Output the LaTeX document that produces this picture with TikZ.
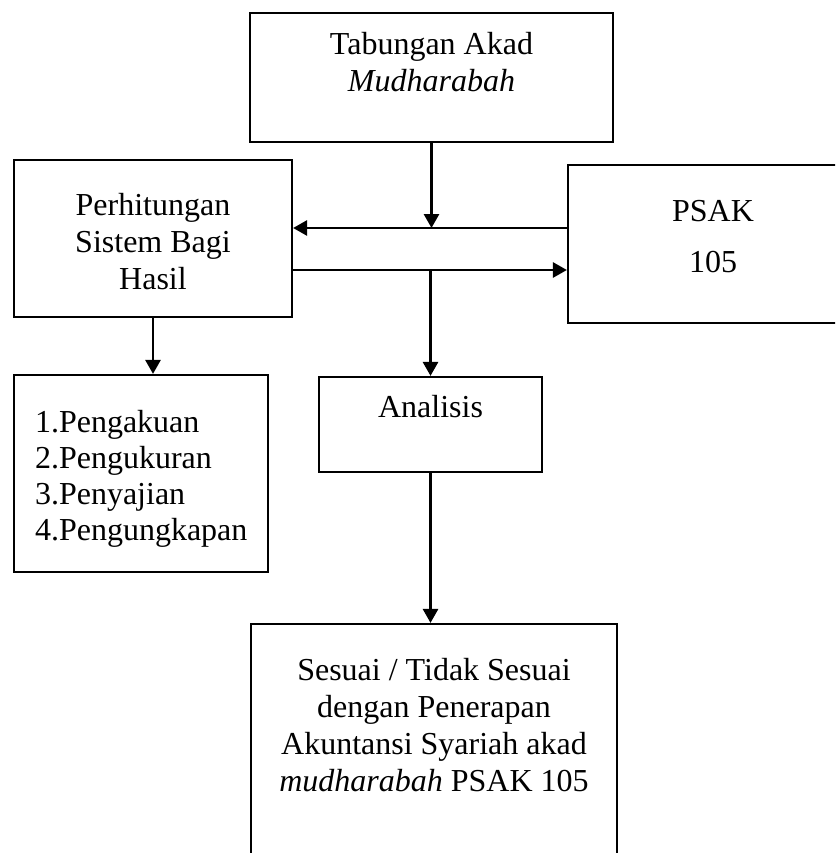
\documentclass[tikz,border=0pt]{standalone}
\usepackage{fontspec}
\setmainfont{Liberation Serif}
\usetikzlibrary{arrows.meta}

% fixed-size box body: [alignment]{width}{height}{top gap}{text}
\newcommand{\boxtext}[5][\centering]{\parbox[c][#3pt][t]{#2pt}{#1\vspace*{#4pt}#5}}

\begin{document}
\begin{tikzpicture}[x=1pt, y=-1pt,
  box/.style={draw, line width=2.2pt, inner sep=0pt, font=\fontsize{32}{37}\selectfont},
  flow/.style={line width=2.8pt, -{Triangle[length=14pt, width=15pt]}}]
  \useasboundingbox (0,0) rectangle (835,853);
  \clip (0,0) rectangle (835,853);

  \node[box] (tabungan) at (431.5,77.5) {\boxtext{363}{129}{18.8}{Tabungan Akad\\ \textit{Mudharabah}}};
  \node[box] (perhitungan) at (153,238.5) {\boxtext{278}{157}{32.8}{Perhitungan\\ Sistem Bagi\\ Hasil}};
  \node[box] (psak) at (713,244) {\boxtext{290}{158}{35.3}{PSAK\\[14pt]105}};
  \node[box] (list) at (141,473.5) {\boxtext[\leftskip=21pt\rightskip=0pt plus 1fil\fontsize{32}{36}\selectfont]{254}{197}{35.3}{1.Pengakuan\\2.Pengukuran\\3.Penyajian\\4.Pengungkapan}};
  \node[box] (analisis) at (430.5,424.5) {\boxtext{223}{95}{18.5}{Analisis}};
  \node[box] (sesuai) at (434,754) {\boxtext{366}{260}{34.3}{Sesuai / Tidak Sesuai\\ dengan Penerapan\\ Akuntansi Syariah akad\\ \textit{mudharabah} PSAK 105}};

  \coordinate (upper) at (0,228);
  \coordinate (lower) at (0,270);

  \draw[flow] (tabungan.south) -- (tabungan.south |- upper);
  \draw[flow] (psak.west |- upper) -- (perhitungan.east |- upper);
  \draw[flow] (perhitungan.east |- lower) -- (psak.west |- lower);
  \draw[flow] (analisis.north |- lower) -- (analisis.north);
  \draw[flow] (perhitungan.south) -- (perhitungan.south |- list.north);
  \draw[flow] (analisis.south) -- (analisis.south |- sesuai.north);
\end{tikzpicture}
\end{document}
